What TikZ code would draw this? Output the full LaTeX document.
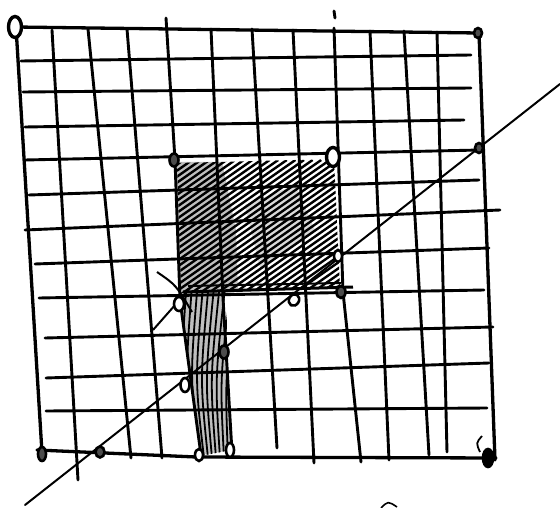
\documentclass[tikz,border=0pt]{standalone}
\usetikzlibrary{shapes.geometric}
\begin{document}
\begin{tikzpicture}[x=1pt,y=-1pt,
  grid/.style={line width=2.9pt, line cap=round, line join=round},
  border/.style={line width=3.3pt, line cap=round, line join=round},
  pt/.style={ellipse, draw, line width=2.6pt, inner sep=0pt, minimum width=8pt, minimum height=12pt, fill=white},
  ptd/.style={pt, fill=black!70},
  hatchln/.style={line width=2.4pt},
  diag/.style={line width=2pt, line cap=round}]
\useasboundingbox (0,0) rectangle (560,508);
% grey shading
\fill[gray!50] (176,162) -- (222,162) -- (236,230) -- (238,292) -- (224,293) .. controls (228,370) .. (232,450) -- (201,455) -- (180,300) -- cycle;
\fill[gray!30] (245,205) -- (295,185) -- (315,230) -- (260,268) -- cycle;
% vertical grid lines
\draw[border] (16,27) -- (42,453);
\draw[grid] (52,30) -- (78,480);
\draw[grid] (88,29) -- (131,458);
\draw[grid] (127,29) -- (162,458);
\draw[grid] (166,18) -- (175,160) -- (180,300) -- (201,455);
\draw[grid] (211,29) -- (223,298) -- (232,452);
\draw[grid] (252,29) -- (277,448);
\draw[grid] (293,30) -- (314,463);
\draw[grid] (334,11) -- (335,18);
\draw[grid] (334,28) -- (343,292) -- (361,462);
\draw[grid] (370,31) -- (389,460);
\draw[grid] (404,31) -- (429,455);
\draw[grid] (437,32) -- (447,452);
\draw[border] (479,33) -- (495,460);
% horizontal grid lines
\draw[border] (16,27) -- (478,33);
\draw[grid] (21,61) -- (471,55);
\draw[grid] (23,92) -- (471,88);
\draw[grid] (25,127) -- (464,120);
\draw[grid] (25,160) -- (480,150);
\draw[grid] (29,195) -- (479,180);
\draw[grid] (25,230) -- (500,210);
\draw[grid] (35,264) -- (489,248);
\draw[grid] (39,298) -- (484,290);
\draw[grid] (45,338) -- (493,327);
\draw[grid] (46,378) -- (489,363);
\draw[grid] (46,411) -- (487,408);
\draw[border] (37,450) -- (196,457) -- (496,458);
% hatching upper rectangle
\begin{scope}
\clip (177,163) -- (334,159) -- (340,288) -- (181,293) -- cycle;
\foreach \i in {0,...,43} \draw[hatchln] (-25+8.6*\i,300) -- ++(200,-140);
\end{scope}
% hatching stem
\begin{scope}
\clip (179,290) -- (226,290) .. controls (228,370) .. (232,450) -- (201,456) -- cycle;
\foreach \i in {0,...,9} \draw[line width=1.8pt] (186+5.5*\i,292) .. controls (180+5*\i,380) .. (192+4*\i,458);
\end{scope}
% bottom edge of rectangle (double line)
\draw[line width=3pt] (183,292) -- (353,287);
\draw[line width=2pt] (188,286) -- (341,283);
% construction marks
\draw[line width=2pt] (153,330) -- (191,287);
\draw[line width=2pt] (157,272) .. controls (176,285) .. (192,312);
\draw[line width=1.8pt] (482,436) .. controls (476,443) .. (480,452);
\draw[line width=1.6pt] (381,508) .. controls (388,501) .. (397,507);
% diagonal
\coordinate (d0) at (25,505);
\coordinate (d1) at (560,84);
\draw[diag] (d0) -- (d1);
% points
\node[pt, minimum width=13pt, minimum height=21pt, line width=3.4pt] (c1) at (15,27) {};
\node[ptd, minimum width=8pt, minimum height=10pt] (c2) at (478,33) {};
\node[ptd, minimum width=8pt, minimum height=10pt] (c3) at (479,148) {};
\node[ptd, minimum width=9pt, minimum height=13pt] (c4) at (174,160) {};
\node[pt, minimum width=13pt, minimum height=19pt, line width=3.4pt] (c5) at (333,157) {};
\node[pt] (c6) at (338,256) {};
\node[ptd, minimum width=9pt, minimum height=12pt] (c7) at (341,292) {};
\node[pt, minimum width=10pt, minimum height=12pt, rotate=-30] (c8) at (294,300) {};
\node[pt, minimum width=10pt, minimum height=14pt] (c9) at (179,304) {};
\node[ptd, minimum width=9pt, minimum height=13pt] (c10) at (224,352) {};
\node[pt, minimum width=9pt, minimum height=14pt] (c11) at (185,385) {};
\node[pt] (c12) at (199,455) {};
\node[pt, minimum width=8pt, minimum height=14pt] (c13) at (230,450) {};
\node[ptd, minimum width=8pt, minimum height=14pt] (c14) at (42,454) {};
\node[ptd, minimum width=9pt, minimum height=11pt] (c15) at (100,452) {};
\node[ptd, minimum width=10pt, minimum height=18pt, fill=black] (c16) at (488,458) {};
\end{tikzpicture}
\end{document}
